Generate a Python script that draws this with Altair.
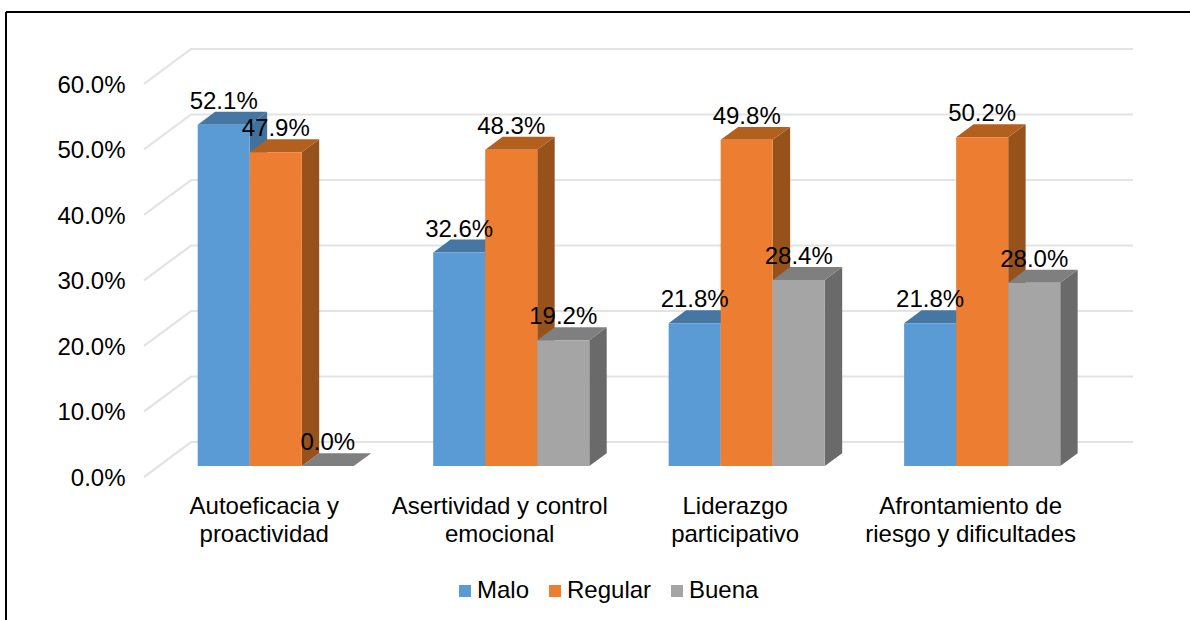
import json

import altair as alt
import pandas as pd

categories = [
    ["Autoeficacia y", "proactividad"],
    ["Asertividad y control", "emocional"],
    ["Liderazgo", "participativo"],
    ["Afrontamiento de", "riesgo y dificultades"],
]
series_names = ["Malo", "Regular", "Buena"]
malo = [52.1, 32.6, 21.8, 21.8]
regular = [47.9, 48.3, 49.8, 50.2]
buena = [0.0, 19.2, 28.4, 28.0]
y_ticks = [0, 10, 20, 30, 40, 50, 60]

front_colors = ["#5B9BD5", "#ED7D31", "#A5A5A5"]
top_colors = ["#4677A2", "#B3601F", "#7F7F7F"]
side_colors = ["#41719C", "#97511B", "#6A6A6A"]

FONT = "Liberation Sans"
FONT_SIZE = 24

# Oblique projection of the chart floor: depth 0 is the front plane, 1 the back wall.
DEPTH_X = 0.2
DEPTH_Y = 5.34
BAR_WIDTH = 0.221
BAR_SHIFT = -0.0085
BAR_DROP = 0.15
BAR_NEAR = 0.34
BAR_FAR = 0.71
X_MIN, X_MAX = -0.5, 3.5


def px(x, depth):
    return x + depth * DEPTH_X


def py(value, depth):
    return value + depth * DEPTH_Y


def bar_y(value, depth):
    return py(value, depth) - BAR_DROP


x_scale = alt.Scale(domain=[X_MIN, X_MAX + DEPTH_X], nice=False, zero=False)
y_scale = alt.Scale(domain=[0, 66.1], nice=False, zero=False)
color_scale = alt.Scale(domain=series_names, range=front_colors)

label_expr = json.dumps(categories) + "[datum.value]"
x_axis = alt.Axis(
    title=None, values=[0, 1, 2, 3], labelExpr=label_expr, domain=False, ticks=False,
    grid=False, labelFont=FONT, labelFontSize=FONT_SIZE, labelColor="#000000",
    labelPadding=17, labelLineHeight=28, labelOverlap=False, labelFlush=False, labelOffset=2,
    labelLimit=400,
)
y_axis = alt.Axis(
    title=None, values=y_ticks, labelExpr="format(datum.value, '.1f') + '%'", domain=False,
    ticks=False, grid=False, labelFont=FONT, labelFontSize=FONT_SIZE, labelColor="#000000",
    labelPadding=19, labelOverlap=False, labelFlush=False, labelOffset=1.5,
)

# Gridlines run along the left wall and then across the back wall.
grid_rows = []
for tick in y_ticks:
    for i, (x, depth) in enumerate([(X_MIN, 0), (X_MIN, 1), (X_MAX, 1)]):
        grid_rows.append({"tick": tick, "i": i, "x": px(x, depth), "y": py(tick, depth)})
grid = alt.Chart(pd.DataFrame(grid_rows)).mark_line(color="#E3E3E3", strokeWidth=2.2).encode(
    x=alt.X("x:Q", scale=x_scale, axis=x_axis),
    y=alt.Y("y:Q", scale=y_scale, axis=y_axis),
    detail="tick:N",
    order="i:Q",
)

layers = [grid]
label_rows = []
for s, (name, values) in enumerate(zip(series_names, [malo, regular, buena])):
    front_rows, top_rows, side_rows = [], [], []
    for c, value in enumerate(values):
        left = c + (s - 1.5) * BAR_WIDTH + BAR_SHIFT
        right = left + BAR_WIDTH
        near_y, far_y = bar_y(value, BAR_NEAR), bar_y(value, BAR_FAR)
        front_rows.append({
            "serie": name, "x": px(left, BAR_NEAR), "x2": px(right, BAR_NEAR),
            "y": bar_y(0, BAR_NEAR), "y2": near_y,
        })
        top_rows += [
            {"c": c, "x": px(left, BAR_NEAR), "y": near_y, "y2": near_y},
            {"c": c, "x": px(left, BAR_FAR), "y": near_y, "y2": far_y},
            {"c": c, "x": px(right, BAR_NEAR), "y": near_y, "y2": far_y},
            {"c": c, "x": px(right, BAR_FAR), "y": far_y, "y2": far_y},
        ]
        side_rows += [
            {"c": c, "x": px(right, BAR_NEAR), "y": bar_y(0, BAR_NEAR), "y2": near_y},
            {"c": c, "x": px(right, BAR_FAR), "y": bar_y(0, BAR_FAR), "y2": far_y},
        ]
        label_rows.append({
            "x": px(left + BAR_WIDTH / 2, BAR_NEAR), "y": near_y, "label": f"{value:.1f}%",
        })

    for rows, color in [(side_rows, side_colors[s]), (top_rows, top_colors[s])]:
        layers.append(
            alt.Chart(pd.DataFrame(rows)).mark_area(color=color, line=False).encode(
                x=alt.X("x:Q", scale=x_scale),
                y=alt.Y("y:Q", scale=y_scale),
                y2="y2:Q",
                detail="c:N",
            )
        )
    layers.append(
        alt.Chart(pd.DataFrame(front_rows)).mark_bar().encode(
            x=alt.X("x:Q", scale=x_scale),
            x2="x2:Q",
            y=alt.Y("y:Q", scale=y_scale),
            y2="y2:Q",
            color=alt.Color(
                "serie:N", scale=color_scale, sort=series_names,
                legend=alt.Legend(
                    title=None, orient="none", legendX=309, legendY=535, direction="horizontal",
                    columns=3, symbolType="square", symbolSize=144, symbolStrokeWidth=0,
                    labelFont=FONT, labelFontSize=FONT_SIZE, labelColor="#000000",
                    labelOffset=0, columnPadding=13,
                ),
            ),
        )
    )

labels = alt.Chart(pd.DataFrame(label_rows)).mark_text(
    font=FONT, fontSize=FONT_SIZE, color="#000000", dy=-23, baseline="middle", align="center",
).encode(
    x=alt.X("x:Q", scale=x_scale),
    y=alt.Y("y:Q", scale=y_scale),
    text="label:N",
)
layers.append(labels)

# Black frame around the chart object, open at the bottom and right of the page.
frame_row = pd.DataFrame({"edge": ["frame"]})
frame_top = alt.Chart(frame_row).mark_rule(color="#000000", strokeWidth=2).encode(
    x=alt.value(-138), x2=alt.value(1046), y=alt.value(-32),
)
frame_left = alt.Chart(frame_row).mark_rule(color="#000000", strokeWidth=2).encode(
    x=alt.value(-138), y=alt.value(-32), y2=alt.value(576),
)
layers += [frame_top, frame_left]

chart = alt.layer(*layers).resolve_scale(color="shared").properties(
    width=989,
    height=433,
    padding={"left": 144, "top": 44, "right": 57, "bottom": 143},
    autosize=alt.AutoSizeParams(type="none"),
    background="#FFFFFF",
).configure_view(stroke=None)

chart.save("out.html", embed_options={"renderer": "svg", "actions": False})
